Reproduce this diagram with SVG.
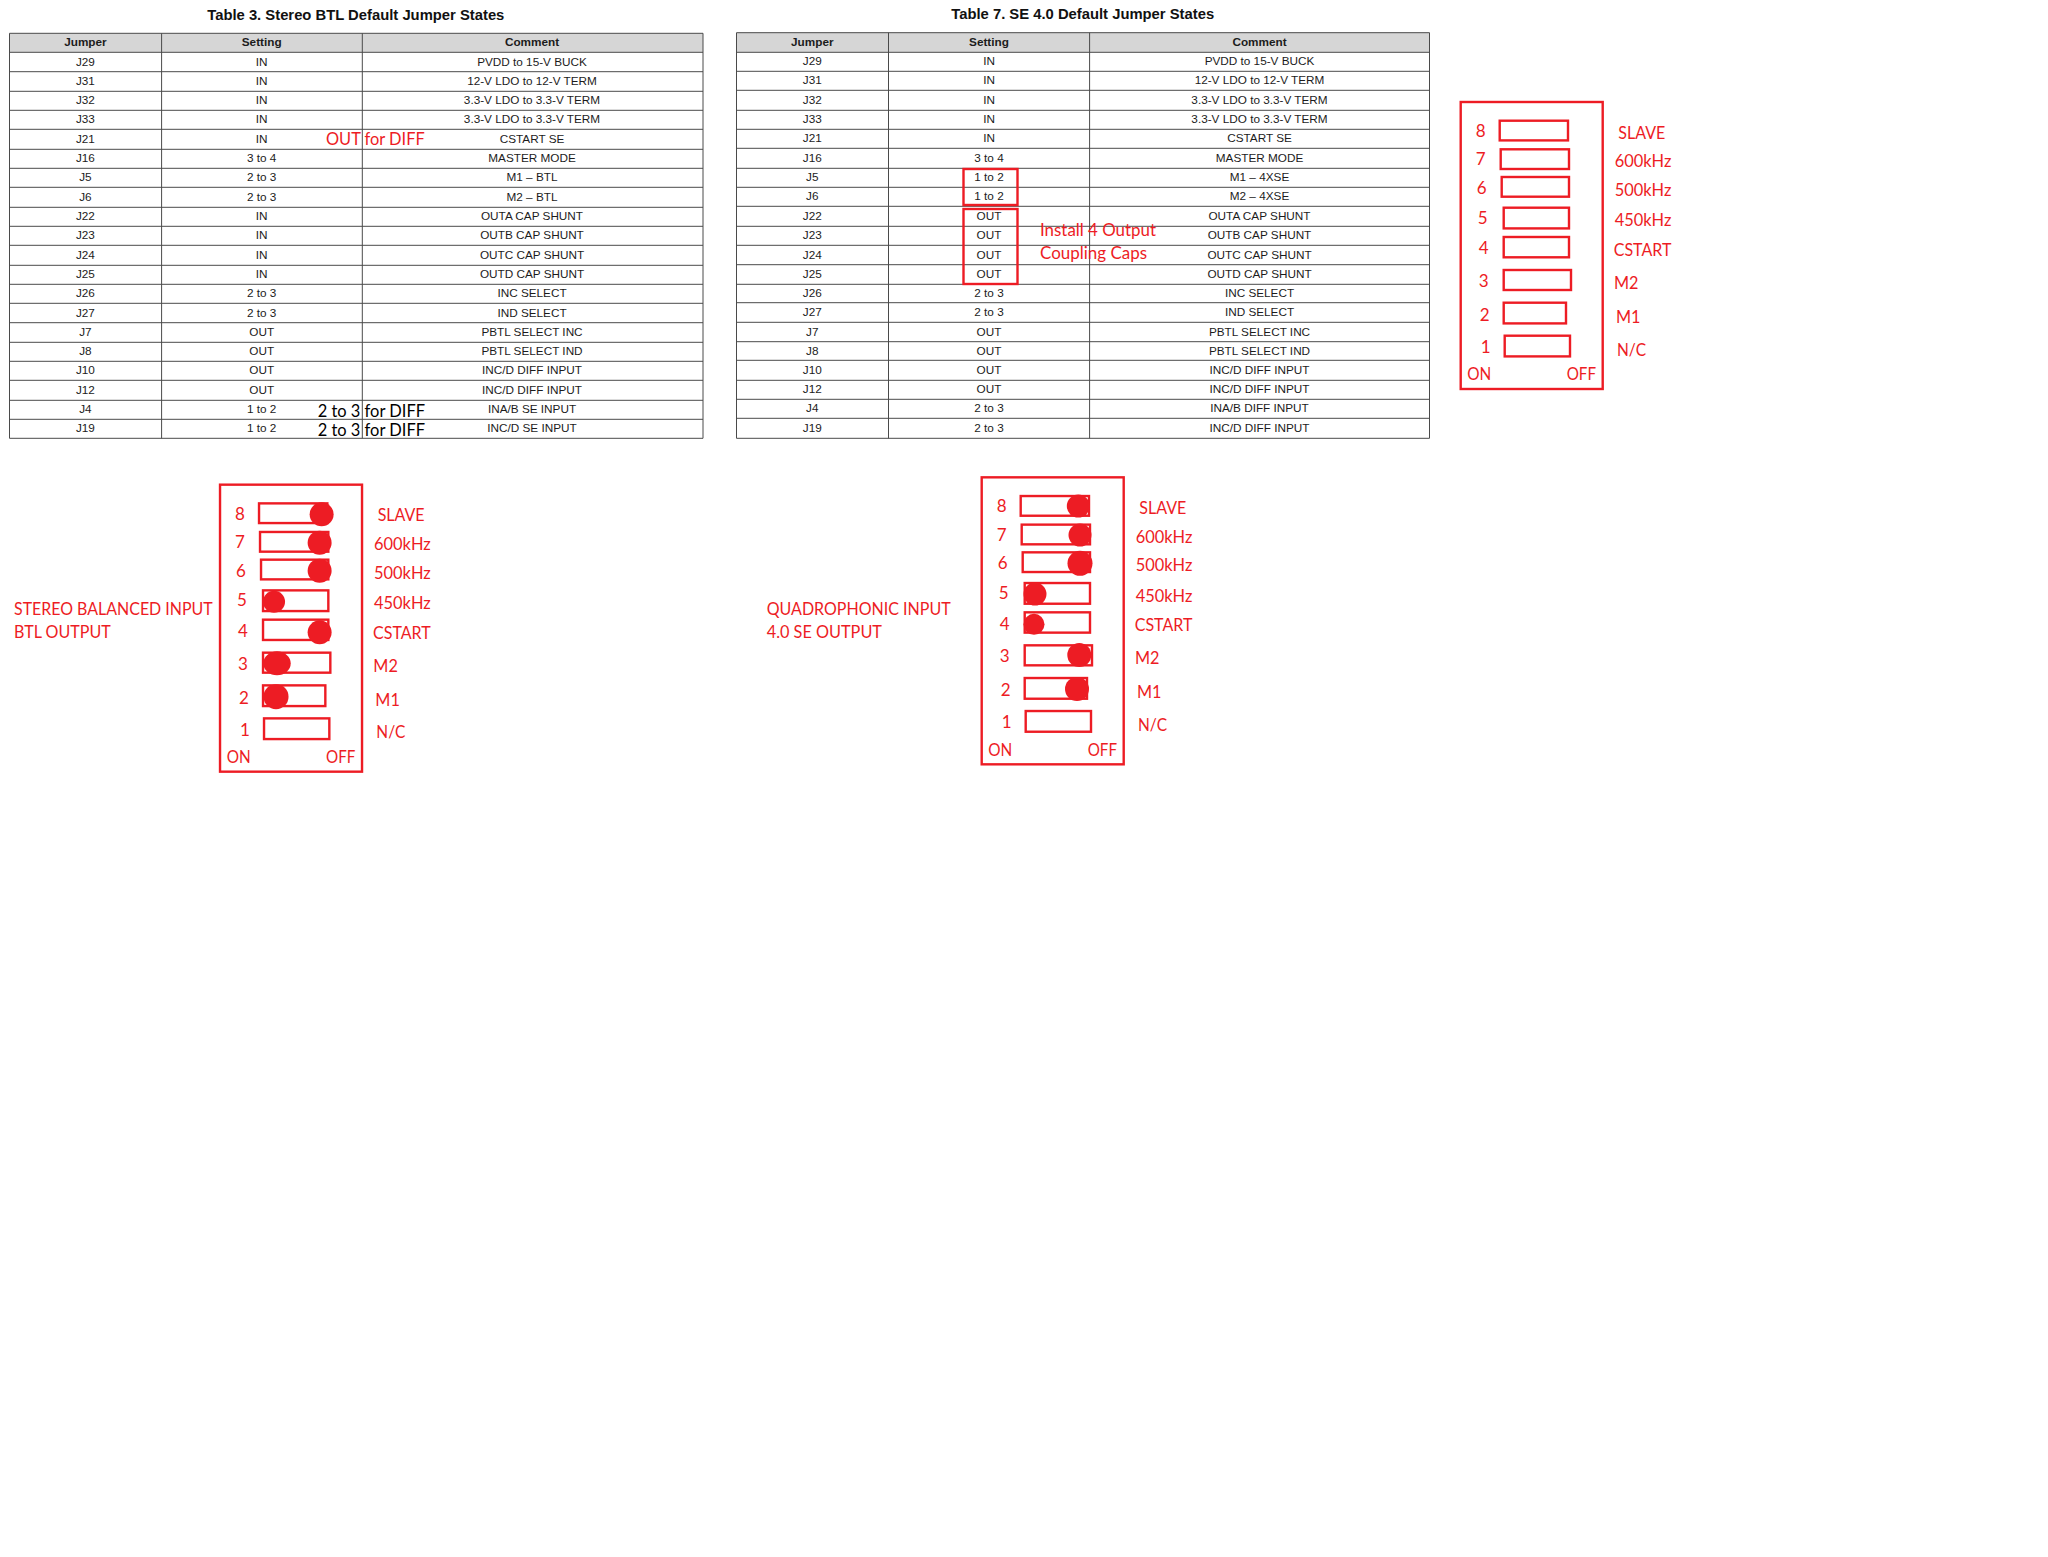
<svg xmlns="http://www.w3.org/2000/svg" width="2048" height="1557" viewBox="0 0 2048 1557">
<style>
text{font-family:"Liberation Sans",Arial,sans-serif}
.t{font-size:11.75px;fill:#1c1c1c;text-anchor:middle}
.h{font-size:11.75px;font-weight:bold;fill:#1c1c1c;text-anchor:middle}
.title{font-size:14.8px;font-weight:bold;fill:#111;text-anchor:middle}
.hd{fill:#d6d6d6}
.grid{fill:none;stroke:#4a4a4a;stroke-width:1}
.r,.k,.n{font-family:Lato,"Noto Sans",sans-serif;font-size:17px}
.r{fill:#ed1c24}
.k{fill:#000}
.n{fill:#ed1c24;text-anchor:middle}
.box{fill:none;stroke:#ed1c24;stroke-width:2.4}
.dot{fill:#ed1c24}
</style>
<rect width="2048" height="1557" fill="#fff"/>

<g id="table3">
<text class="title" x="355.8" y="19.6">Table 3. Stereo BTL Default Jumper States</text>
<rect class="hd" x="9.5" y="33.3" width="693.5" height="19"/>
<path class="grid" d="M9.5 33.3H703M9.5 52.3H703M9.5 71.7H703M9.5 91.3H703M9.5 110.3H703M9.5 129.3H703M9.5 149.3H703M9.5 168.3H703M9.5 187.3H703M9.5 207.3H703M9.5 226.3H703M9.5 245.3H703M9.5 265.3H703M9.5 284.3H703M9.5 303.3H703M9.5 322.7H703M9.5 342.3H703M9.5 361.3H703M9.5 380.3H703M9.5 400.3H703M9.5 419.3H703M9.5 438.3H703M9.5 33.3V438.3M161.6 33.3V438.3M362.3 33.3V438.3M703 33.3V438.3"/>
<text class="h" x="85.4" y="46">Jumper</text><text class="h" x="261.7" y="46">Setting</text><text class="h" x="532" y="46">Comment</text>
<text class="t" x="85.4" y="65.5">J29</text><text class="t" x="261.7" y="65.5">IN</text><text class="t" x="532" y="65.5">PVDD to 15-V BUCK</text>
<text class="t" x="85.4" y="85">J31</text><text class="t" x="261.7" y="85">IN</text><text class="t" x="532" y="85">12-V LDO to 12-V TERM</text>
<text class="t" x="85.4" y="104.3">J32</text><text class="t" x="261.7" y="104.3">IN</text><text class="t" x="532" y="104.3">3.3-V LDO to 3.3-V TERM</text>
<text class="t" x="85.4" y="123.3">J33</text><text class="t" x="261.7" y="123.3">IN</text><text class="t" x="532" y="123.3">3.3-V LDO to 3.3-V TERM</text>
<text class="t" x="85.4" y="142.8">J21</text><text class="t" x="261.7" y="142.8">IN</text><text class="t" x="532" y="142.8">CSTART SE</text>
<text class="t" x="85.4" y="162.3">J16</text><text class="t" x="261.7" y="162.3">3 to 4</text><text class="t" x="532" y="162.3">MASTER MODE</text>
<text class="t" x="85.4" y="181.3">J5</text><text class="t" x="261.7" y="181.3">2 to 3</text><text class="t" x="532" y="181.3">M1 – BTL</text>
<text class="t" x="85.4" y="200.8">J6</text><text class="t" x="261.7" y="200.8">2 to 3</text><text class="t" x="532" y="200.8">M2 – BTL</text>
<text class="t" x="85.4" y="220.3">J22</text><text class="t" x="261.7" y="220.3">IN</text><text class="t" x="532" y="220.3">OUTA CAP SHUNT</text>
<text class="t" x="85.4" y="239.3">J23</text><text class="t" x="261.7" y="239.3">IN</text><text class="t" x="532" y="239.3">OUTB CAP SHUNT</text>
<text class="t" x="85.4" y="258.8">J24</text><text class="t" x="261.7" y="258.8">IN</text><text class="t" x="532" y="258.8">OUTC CAP SHUNT</text>
<text class="t" x="85.4" y="278.2">J25</text><text class="t" x="261.7" y="278.2">IN</text><text class="t" x="532" y="278.2">OUTD CAP SHUNT</text>
<text class="t" x="85.4" y="297.2">J26</text><text class="t" x="261.7" y="297.2">2 to 3</text><text class="t" x="532" y="297.2">INC SELECT</text>
<text class="t" x="85.4" y="316.5">J27</text><text class="t" x="261.7" y="316.5">2 to 3</text><text class="t" x="532" y="316.5">IND SELECT</text>
<text class="t" x="85.4" y="336">J7</text><text class="t" x="261.7" y="336">OUT</text><text class="t" x="532" y="336">PBTL SELECT INC</text>
<text class="t" x="85.4" y="355.3">J8</text><text class="t" x="261.7" y="355.3">OUT</text><text class="t" x="532" y="355.3">PBTL SELECT IND</text>
<text class="t" x="85.4" y="374.3">J10</text><text class="t" x="261.7" y="374.3">OUT</text><text class="t" x="532" y="374.3">INC/D DIFF INPUT</text>
<text class="t" x="85.4" y="393.8">J12</text><text class="t" x="261.7" y="393.8">OUT</text><text class="t" x="532" y="393.8">INC/D DIFF INPUT</text>
<text class="t" x="85.4" y="413.3">J4</text><text class="t" x="261.7" y="413.3">1 to 2</text><text class="t" x="532" y="413.3">INA/B SE INPUT</text>
<text class="t" x="85.4" y="432.3">J19</text><text class="t" x="261.7" y="432.3">1 to 2</text><text class="t" x="532" y="432.3">INC/D SE INPUT</text>
<text class="r" x="326" y="145" textLength="98.7" lengthAdjust="spacingAndGlyphs">OUT for DIFF</text>
<text class="k" x="317.7" y="416.7" textLength="107.3" lengthAdjust="spacingAndGlyphs">2 to 3 for DIFF</text>
<text class="k" x="317.7" y="436" textLength="107.3" lengthAdjust="spacingAndGlyphs">2 to 3 for DIFF</text>
</g>

<g id="table7">
<text class="title" x="1082.7" y="19">Table 7. SE 4.0 Default Jumper States</text>
<rect class="hd" x="736.5" y="32.7" width="693" height="19.6"/>
<path class="grid" d="M736.5 32.7H1429.5M736.5 52.3H1429.5M736.5 71.3H1429.5M736.5 90.3H1429.5M736.5 110.3H1429.5M736.5 129.3H1429.5M736.5 148.3H1429.5M736.5 168.3H1429.5M736.5 187.3H1429.5M736.5 206.3H1429.5M736.5 226.3H1429.5M736.5 245.3H1429.5M736.5 264.7H1429.5M736.5 284.3H1429.5M736.5 302.7H1429.5M736.5 322.3H1429.5M736.5 341.7H1429.5M736.5 360.3H1429.5M736.5 380.3H1429.5M736.5 399.3H1429.5M736.5 418.3H1429.5M736.5 438.3H1429.5M736.5 32.7V438.3M888.5 32.7V438.3M1089.6 32.7V438.3M1429.5 32.7V438.3"/>
<text class="h" x="812.3" y="46">Jumper</text><text class="h" x="989" y="46">Setting</text><text class="h" x="1259.5" y="46">Comment</text>
<text class="t" x="812.3" y="65.3">J29</text><text class="t" x="989" y="65.3">IN</text><text class="t" x="1259.5" y="65.3">PVDD to 15-V BUCK</text>
<text class="t" x="812.3" y="84.3">J31</text><text class="t" x="989" y="84.3">IN</text><text class="t" x="1259.5" y="84.3">12-V LDO to 12-V TERM</text>
<text class="t" x="812.3" y="103.8">J32</text><text class="t" x="989" y="103.8">IN</text><text class="t" x="1259.5" y="103.8">3.3-V LDO to 3.3-V TERM</text>
<text class="t" x="812.3" y="123.3">J33</text><text class="t" x="989" y="123.3">IN</text><text class="t" x="1259.5" y="123.3">3.3-V LDO to 3.3-V TERM</text>
<text class="t" x="812.3" y="142.3">J21</text><text class="t" x="989" y="142.3">IN</text><text class="t" x="1259.5" y="142.3">CSTART SE</text>
<text class="t" x="812.3" y="161.8">J16</text><text class="t" x="989" y="161.8">3 to 4</text><text class="t" x="1259.5" y="161.8">MASTER MODE</text>
<text class="t" x="812.3" y="181.3">J5</text><text class="t" x="989" y="181.3">1 to 2</text><text class="t" x="1259.5" y="181.3">M1 – 4XSE</text>
<text class="t" x="812.3" y="200.3">J6</text><text class="t" x="989" y="200.3">1 to 2</text><text class="t" x="1259.5" y="200.3">M2 – 4XSE</text>
<text class="t" x="812.3" y="219.8">J22</text><text class="t" x="989" y="219.8">OUT</text><text class="t" x="1259.5" y="219.8">OUTA CAP SHUNT</text>
<text class="t" x="812.3" y="239.3">J23</text><text class="t" x="989" y="239.3">OUT</text><text class="t" x="1259.5" y="239.3">OUTB CAP SHUNT</text>
<text class="t" x="812.3" y="258.5">J24</text><text class="t" x="989" y="258.5">OUT</text><text class="t" x="1259.5" y="258.5">OUTC CAP SHUNT</text>
<text class="t" x="812.3" y="277.8">J25</text><text class="t" x="989" y="277.8">OUT</text><text class="t" x="1259.5" y="277.8">OUTD CAP SHUNT</text>
<text class="t" x="812.3" y="296.8">J26</text><text class="t" x="989" y="296.8">2 to 3</text><text class="t" x="1259.5" y="296.8">INC SELECT</text>
<text class="t" x="812.3" y="316">J27</text><text class="t" x="989" y="316">2 to 3</text><text class="t" x="1259.5" y="316">IND SELECT</text>
<text class="t" x="812.3" y="335.5">J7</text><text class="t" x="989" y="335.5">OUT</text><text class="t" x="1259.5" y="335.5">PBTL SELECT INC</text>
<text class="t" x="812.3" y="354.5">J8</text><text class="t" x="989" y="354.5">OUT</text><text class="t" x="1259.5" y="354.5">PBTL SELECT IND</text>
<text class="t" x="812.3" y="373.8">J10</text><text class="t" x="989" y="373.8">OUT</text><text class="t" x="1259.5" y="373.8">INC/D DIFF INPUT</text>
<text class="t" x="812.3" y="393.3">J12</text><text class="t" x="989" y="393.3">OUT</text><text class="t" x="1259.5" y="393.3">INC/D DIFF INPUT</text>
<text class="t" x="812.3" y="412.3">J4</text><text class="t" x="989" y="412.3">2 to 3</text><text class="t" x="1259.5" y="412.3">INA/B DIFF INPUT</text>
<text class="t" x="812.3" y="431.8">J19</text><text class="t" x="989" y="431.8">2 to 3</text><text class="t" x="1259.5" y="431.8">INC/D DIFF INPUT</text>
<rect class="box" x="963.5" y="169" width="54" height="36"/>
<rect class="box" x="963.5" y="209" width="54" height="75"/>
<text class="r" x="1040" y="235.8" textLength="116" lengthAdjust="spacingAndGlyphs">Install 4 Output</text>
<text class="r" x="1040" y="258.7" textLength="107" lengthAdjust="spacingAndGlyphs">Coupling Caps</text>
</g>

<g id="dip-default" transform="translate(1440 90)">
<rect class="box" x="20.7" y="12" width="142" height="287"/>
<rect class="box" x="59.7" y="30.7" width="68.3" height="19.7"/><rect class="box" x="60.7" y="59.3" width="68.3" height="19.7"/><rect class="box" x="61.7" y="87" width="67.3" height="19.7"/><rect class="box" x="63.7" y="117.7" width="65.3" height="20.7"/><rect class="box" x="63.7" y="147" width="65.3" height="20.3"/><rect class="box" x="63.7" y="180" width="67.3" height="20"/><rect class="box" x="63.7" y="212.7" width="62.3" height="20.7"/><rect class="box" x="64.7" y="245.7" width="65.3" height="20.7"/>
<text class="n" x="40.7" y="47">8</text><text class="n" x="40.7" y="75.3">7</text><text class="n" x="41.7" y="104">6</text><text class="n" x="42.7" y="133.7">5</text><text class="n" x="43.7" y="164.3">4</text><text class="n" x="43.7" y="197">3</text><text class="n" x="44.7" y="231">2</text><text class="n" x="45.7" y="263">1</text>
<text class="r" x="178.3" y="48.8" textLength="47" lengthAdjust="spacingAndGlyphs">SLAVE</text><text class="r" x="174.7" y="77.3" textLength="56.7" lengthAdjust="spacingAndGlyphs">600kHz</text><text class="r" x="174.7" y="106" textLength="56.7" lengthAdjust="spacingAndGlyphs">500kHz</text><text class="r" x="174.7" y="136.3" textLength="56.7" lengthAdjust="spacingAndGlyphs">450kHz</text><text class="r" x="173.7" y="166" textLength="57.7" lengthAdjust="spacingAndGlyphs">CSTART</text><text class="r" x="174" y="199" textLength="24.5" lengthAdjust="spacingAndGlyphs">M2</text><text class="r" x="176" y="233" textLength="24.5" lengthAdjust="spacingAndGlyphs">M1</text><text class="r" x="177" y="265.8" textLength="29" lengthAdjust="spacingAndGlyphs">N/C</text>
<text class="r" x="27.3" y="290.2" textLength="24" lengthAdjust="spacingAndGlyphs">ON</text><text class="r" x="126.7" y="290.2" textLength="29.3" lengthAdjust="spacingAndGlyphs">OFF</text>
</g>

<g id="dip-stereo" transform="translate(199.33 472.67)">
<rect class="box" x="20.7" y="12" width="142" height="287"/>
<rect class="box" x="59.7" y="30.7" width="68.3" height="19.7"/><rect class="box" x="60.7" y="59.3" width="68.3" height="19.7"/><rect class="box" x="61.7" y="87" width="67.3" height="19.7"/><rect class="box" x="63.7" y="117.7" width="65.3" height="20.7"/><rect class="box" x="63.7" y="147" width="65.3" height="20.3"/><rect class="box" x="63.7" y="180" width="67.3" height="20"/><rect class="box" x="63.7" y="212.7" width="62.3" height="20.7"/><rect class="box" x="64.7" y="245.7" width="65.3" height="20.7"/>
<circle class="dot" cx="122.3" cy="41.7" r="12"/><circle class="dot" cx="120.3" cy="70" r="12"/><circle class="dot" cx="120.3" cy="98" r="12"/><circle class="dot" cx="74.7" cy="129" r="11"/><circle class="dot" cx="120.3" cy="159.7" r="12"/><ellipse class="dot" cx="77.7" cy="190.7" rx="13.7" ry="12"/><circle class="dot" cx="76.7" cy="224" r="12.5"/>
<text class="n" x="40.7" y="47">8</text><text class="n" x="40.7" y="75.3">7</text><text class="n" x="41.7" y="104">6</text><text class="n" x="42.7" y="133.7">5</text><text class="n" x="43.7" y="164.3">4</text><text class="n" x="43.7" y="197">3</text><text class="n" x="44.7" y="231">2</text><text class="n" x="45.7" y="263">1</text>
<text class="r" x="178.3" y="48.8" textLength="47" lengthAdjust="spacingAndGlyphs">SLAVE</text><text class="r" x="174.7" y="77.3" textLength="56.7" lengthAdjust="spacingAndGlyphs">600kHz</text><text class="r" x="174.7" y="106" textLength="56.7" lengthAdjust="spacingAndGlyphs">500kHz</text><text class="r" x="174.7" y="136.3" textLength="56.7" lengthAdjust="spacingAndGlyphs">450kHz</text><text class="r" x="173.7" y="166" textLength="57.7" lengthAdjust="spacingAndGlyphs">CSTART</text><text class="r" x="174" y="199" textLength="24.5" lengthAdjust="spacingAndGlyphs">M2</text><text class="r" x="176" y="233" textLength="24.5" lengthAdjust="spacingAndGlyphs">M1</text><text class="r" x="177" y="265.8" textLength="29" lengthAdjust="spacingAndGlyphs">N/C</text>
<text class="r" x="27.3" y="290.2" textLength="24" lengthAdjust="spacingAndGlyphs">ON</text><text class="r" x="126.7" y="290.2" textLength="29.3" lengthAdjust="spacingAndGlyphs">OFF</text>
</g>
<g id="label-stereo">
<text class="r" x="14" y="614.7" textLength="198.7" lengthAdjust="spacingAndGlyphs">STEREO BALANCED INPUT</text>
<text class="r" x="14" y="637.7" textLength="96.7" lengthAdjust="spacingAndGlyphs">BTL OUTPUT</text>
</g>

<g id="dip-quad" transform="translate(961 465.33)">
<rect class="box" x="20.7" y="12" width="142" height="287"/>
<rect class="box" x="59.7" y="30.7" width="68.3" height="19.7"/><rect class="box" x="60.7" y="59.3" width="68.3" height="19.7"/><rect class="box" x="61.7" y="87" width="67.3" height="19.7"/><rect class="box" x="63.7" y="117.7" width="65.3" height="20.7"/><rect class="box" x="63.7" y="147" width="65.3" height="20.3"/><rect class="box" x="63.7" y="180" width="67.3" height="20"/><rect class="box" x="63.7" y="212.7" width="62.3" height="20.7"/><rect class="box" x="64.7" y="245.7" width="65.3" height="20.7"/>
<circle class="dot" cx="117.3" cy="40.7" r="11.5"/><circle class="dot" cx="119" cy="69.7" r="11.5"/><circle class="dot" cx="119" cy="98" r="12.5"/><circle class="dot" cx="74" cy="128.7" r="11.5"/><circle class="dot" cx="73" cy="159" r="10.5"/><circle class="dot" cx="118.3" cy="189.7" r="12"/><circle class="dot" cx="116" cy="223.7" r="12"/>
<text class="n" x="40.7" y="47">8</text><text class="n" x="40.7" y="75.3">7</text><text class="n" x="41.7" y="104">6</text><text class="n" x="42.7" y="133.7">5</text><text class="n" x="43.7" y="164.3">4</text><text class="n" x="43.7" y="197">3</text><text class="n" x="44.7" y="231">2</text><text class="n" x="45.7" y="263">1</text>
<text class="r" x="178.3" y="48.8" textLength="47" lengthAdjust="spacingAndGlyphs">SLAVE</text><text class="r" x="174.7" y="77.3" textLength="56.7" lengthAdjust="spacingAndGlyphs">600kHz</text><text class="r" x="174.7" y="106" textLength="56.7" lengthAdjust="spacingAndGlyphs">500kHz</text><text class="r" x="174.7" y="136.3" textLength="56.7" lengthAdjust="spacingAndGlyphs">450kHz</text><text class="r" x="173.7" y="166" textLength="57.7" lengthAdjust="spacingAndGlyphs">CSTART</text><text class="r" x="174" y="199" textLength="24.5" lengthAdjust="spacingAndGlyphs">M2</text><text class="r" x="176" y="233" textLength="24.5" lengthAdjust="spacingAndGlyphs">M1</text><text class="r" x="177" y="265.8" textLength="29" lengthAdjust="spacingAndGlyphs">N/C</text>
<text class="r" x="27.3" y="290.2" textLength="24" lengthAdjust="spacingAndGlyphs">ON</text><text class="r" x="126.7" y="290.2" textLength="29.3" lengthAdjust="spacingAndGlyphs">OFF</text>
</g>
<g id="label-quad">
<text class="r" x="766.7" y="614.7" textLength="184" lengthAdjust="spacingAndGlyphs">QUADROPHONIC INPUT</text>
<text class="r" x="766.7" y="637.7" textLength="115.3" lengthAdjust="spacingAndGlyphs">4.0 SE OUTPUT</text>
</g>
<g id="connectors"/>
</svg>
